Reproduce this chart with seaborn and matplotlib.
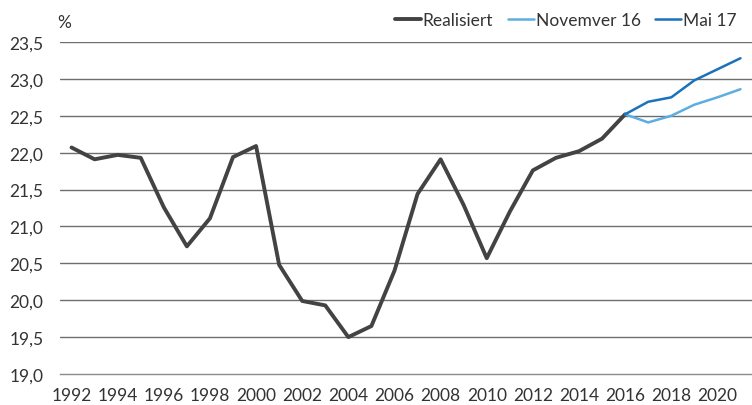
import numpy as np
import pandas as pd
import matplotlib
matplotlib.use("Agg")
import matplotlib.pyplot as plt
import seaborn as sns

# ============================================================
# DATA
# ============================================================

years = list(range(1992, 2022))

realisiert_years = list(range(1992, 2017))
realisiert = [22.07, 21.91, 21.97, 21.93, 21.26, 20.73, 21.11, 21.94, 22.09,
              20.48, 19.99, 19.93, 19.50, 19.65, 20.40, 21.44, 21.91, 21.29,
              20.57, 21.20, 21.76, 21.93, 22.02, 22.19, 22.52]

prognose_years = list(range(2016, 2022))
november_16 = [22.52, 22.41, 22.50, 22.65, 22.75, 22.86]
mai_17 = [22.52, 22.69, 22.75, 22.98, 23.13, 23.28]

y_ticks = [19.0, 19.5, 20.0, 20.5, 21.0, 21.5, 22.0, 22.5, 23.0, 23.5]

# ============================================================
# DATAFRAMES
# ============================================================

df_real = pd.DataFrame({"pos": [y - years[0] for y in realisiert_years],
                        "wert": realisiert})
df_nov = pd.DataFrame({"pos": [y - years[0] for y in prognose_years],
                       "wert": november_16})
df_mai = pd.DataFrame({"pos": [y - years[0] for y in prognose_years],
                       "wert": mai_17})

# ============================================================
# PLOT
# ============================================================

sns.set_style("white")
plt.rcParams["font.family"] = ["Lato", "DejaVu Sans"]

FS = 12.5

fig = plt.figure(figsize=(7.52, 4.06), dpi=100)
ax = fig.add_axes([60 / 752, 31 / 406, 692 / 752, 332 / 406])

for yv in y_ticks[1:]:
    ax.axhline(yv, color="#6e6e6e", linewidth=1.0, zorder=1)

sns.lineplot(data=df_real, x="pos", y="wert", ax=ax, color="#434343",
             linewidth=2.8, label="Realisiert", zorder=3)
sns.lineplot(data=df_nov, x="pos", y="wert", ax=ax, color="#5dade2",
             linewidth=1.8, label="Novemver 16", zorder=4)
sns.lineplot(data=df_mai, x="pos", y="wert", ax=ax, color="#1b72bb",
             linewidth=1.8, label="Mai 17", zorder=5)

ax.set_xlim(-0.5, len(years) - 0.5)
ax.set_ylim(19.0, 23.5)

ax.set_xticks(list(range(0, len(years), 2)))
ax.set_xticklabels([str(y) for y in years[::2]])
ax.set_xticks([i - 0.5 for i in range(len(years) + 1)], minor=True)
ax.tick_params(axis="x", which="major", length=0, pad=9.5, labelsize=FS,
               labelcolor="#333333")
ax.tick_params(axis="x", which="minor", length=5, color="#8a8a8a",
               width=1, direction="out")

ax.set_yticks(y_ticks)
ax.set_yticklabels([f"{v:.1f}".replace(".", ",") for v in y_ticks])
ax.tick_params(axis="y", length=0, pad=12, labelsize=FS, labelcolor="#333333")

ax.set_xlabel("")
ax.set_ylabel("")

for side in ["top", "right", "left"]:
    ax.spines[side].set_visible(False)
ax.spines["bottom"].set_color("#8a8a8a")
ax.spines["bottom"].set_linewidth(1)

ax.text(-0.004, 1.035, "%", transform=ax.transAxes, fontsize=FS,
        color="#333333", ha="left", va="bottom")

ax.legend(loc="lower right", bbox_to_anchor=(0.988, 1.02), ncol=3,
          frameon=False, fontsize=FS, handlelength=1.5, handletextpad=0.1,
          columnspacing=0.85, borderaxespad=0, labelcolor="#333333")

plt.savefig("out.png", dpi=100)
